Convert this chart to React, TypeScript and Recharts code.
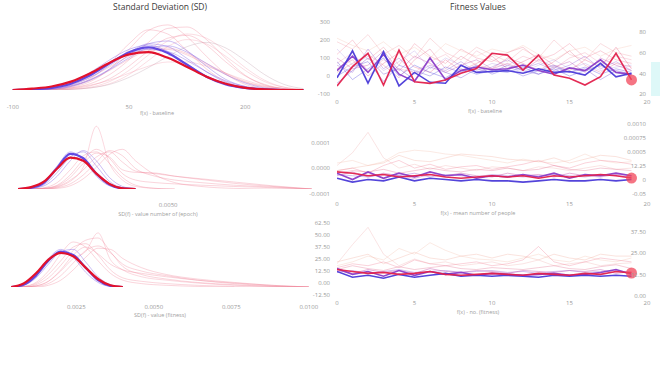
import { LineChart, Line, XAxis, YAxis, ReferenceDot } from 'recharts';

const font = '"Open Sans", "Noto Sans", sans-serif';

// ---------- left column: SD density curves ----------
const sdGrid = [-100, -75, -50, -25, 0, 25, 50, 75, 100, 125, 150, 175, 200, 225, 250, 275];
const sdTicks = [-100, 50, 200];
const sdRed = [0, 2, 5, 12, 24, 39, 51, 54, 46, 33, 19, 9, 3, 1, 0, 0];
const sdBlue = [0, 1, 3, 9, 21, 38, 54, 61, 53, 36, 19, 8, 3, 1, 0, 0];
const sdP1 = [0, 1, 4, 11, 25, 43, 58, 64, 55, 37, 20, 8, 2, 0, 0, 0];
const sdP2 = [0, 1, 2, 7, 18, 35, 53, 66, 62, 45, 26, 11, 4, 1, 0, 0];
const sdP3 = [0, 0, 2, 6, 15, 30, 50, 66, 70, 56, 34, 15, 5, 1, 0, 0];
const sdP4 = [0, 1, 3, 10, 22, 38, 52, 58, 55, 42, 26, 13, 5, 1, 0, 0];
const sdP5 = [0, 0, 1, 5, 14, 29, 46, 60, 63, 54, 38, 22, 10, 3, 1, 0];
const sdK1 = [0, 0, 1, 3, 9, 22, 43, 68, 88, 90, 72, 45, 21, 7, 2, 0];
const sdK2 = [0, 0, 1, 4, 12, 30, 58, 85, 93, 76, 48, 23, 8, 2, 0, 0];
const sdK3 = [0, 0, 0, 1, 4, 12, 28, 50, 70, 80, 74, 55, 32, 14, 4, 1];
const sdK4 = [0, 0, 0, 1, 3, 9, 22, 42, 62, 72, 66, 48, 28, 12, 4, 1];
const sdK5 = [0, 1, 3, 8, 18, 33, 48, 58, 60, 52, 38, 24, 12, 5, 2, 0];
const sdK6 = [0, 0, 0, 1, 3, 8, 18, 32, 48, 62, 68, 60, 42, 22, 8, 2];
const sdK7 = [0, 0, 1, 3, 7, 14, 24, 34, 40, 40, 34, 24, 14, 6, 2, 0];
const sdK8 = [0, 0, 0, 2, 6, 16, 34, 56, 74, 78, 64, 40, 20, 8, 2, 0];
const sdK9 = [0, 1, 2, 6, 14, 28, 44, 56, 58, 50, 36, 22, 11, 4, 1, 0];
const sdK10 = [0, 0, 1, 5, 16, 38, 66, 86, 80, 56, 30, 12, 4, 1, 0, 0];

const varGrid = [4, 8, 12, 16, 20, 24, 28, 32, 36, 40, 46, 52, 60, 70, 82, 94];
const varTicks = [50];
const varRed = [0, 3, 12, 32, 49, 44, 24, 8, 1, 0, null, null, null, null, null, null];
const varBlue = [0, 2, 10, 33, 55, 48, 24, 7, 1, 0, null, null, null, null, null, null];
const varP1 = [0, 1, 7, 26, 50, 58, 36, 12, 2, 0, null, null, null, null, null, null];
const varP2 = [0, 2, 12, 36, 58, 46, 20, 5, 1, 0, null, null, null, null, null, null];
const varP3 = [0, 1, 5, 20, 44, 60, 44, 18, 4, 0, null, null, null, null, null, null];
const varK1 = [0, 0, 2, 10, 30, 52, 58, 40, 18, 6, 1, 0, null, null, null, null];
const varK2 = [0, 0, 1, 4, 14, 34, 98, 40, 14, 4, 1, 0, null, null, null, null];
const varK3 = [0, 0, 1, 5, 18, 40, 56, 50, 30, 26, 25, 20, 15, 9, 4, 0];
const varK4 = [0, 0, 0, 3, 12, 30, 50, 58, 42, 28, 24, 20, 16, 11, 5, 0];
const varK5 = [0, 0, 0, 2, 8, 22, 42, 60, 52, 32, 20, 14, 10, 6, 3, 0];
const varK6 = [0, 0, 1, 6, 22, 46, 62, 48, 24, 14, 10, 8, 6, 4, 2, 0];
const varK7 = [0, 0, 0, 1, 5, 16, 34, 54, 62, 44, 22, 10, 4, 1, 0, 0];

const noiseGrid = [4, 8, 12, 16, 20, 24, 28, 32, 36, 40, 46, 54, 64, 76, 88, 100];
const noiseTicks = [25, 50, 75, 100];
const noiseRed = [0, 6, 24, 48, 60, 54, 34, 14, 3, 0, null, null, null, null, null, null];
const noiseBlue = [0, 4, 20, 46, 62, 56, 34, 12, 2, 0, null, null, null, null, null, null];
const noiseP1 = [0, 3, 16, 40, 62, 66, 44, 18, 4, 0, null, null, null, null, null, null];
const noiseP2 = [0, 5, 22, 50, 66, 52, 26, 8, 1, 0, null, null, null, null, null, null];
const noiseK1 = [0, 1, 8, 28, 58, 79, 70, 46, 24, 12, 6, 3, 1, 0, null, null];
const noiseK2 = [0, 0, 4, 16, 38, 64, 82, 86, 62, 36, 22, 14, 8, 4, 1, 0];
const noiseK3 = [0, 0, 2, 10, 28, 50, 62, 95, 48, 30, 18, 12, 7, 3, 1, 0];
const noiseK4 = [0, 0, 1, 6, 20, 42, 64, 72, 60, 40, 28, 20, 12, 6, 2, 0];
const noiseK5 = [0, 0, 2, 10, 30, 56, 70, 58, 40, 30, 24, 18, 12, 7, 3, 0];
const noiseK6 = [0, 0, 0, 3, 12, 30, 52, 68, 66, 50, 34, 22, 14, 8, 3, 0];
const noiseK7 = [0, 1, 6, 22, 46, 70, 76, 56, 30, 16, 10, 6, 3, 1, 0, 0];

// ---------- right column: fitness per iteration ----------
const iterations = [0, 1, 2, 3, 4, 5, 6, 7, 8, 9, 10, 11, 12, 13, 14, 15, 16, 17, 18, 19];
const iterTicks = [0, 5, 10, 15, 20];

const fitRed = [-56, 52, 126, -50, 144, -32, -41, -22, 15, 42, 126, 116, 33, 116, 5, -13, -50, -4, 126, -22];
const fitBlue = [-10, 140, -40, 135, -55, 20, -35, -40, 60, 20, 25, 30, 15, 40, 20, 25, 5, 70, -5, 15];
const fitPurple = [30, 110, 20, 120, 10, -30, 100, -20, 30, 50, 35, 40, 60, 30, 10, 45, 30, 90, 20, 10];
const fitT1 = [190, 150, 230, 120, 170, 100, 210, 130, 90, 160, 120, 80, 150, 100, 200, 120, 90, 180, 130, 110];
const fitT2 = [120, 200, 90, 160, 60, 180, 110, 70, 150, 100, 80, 130, 160, 90, 120, 180, 100, 140, 90, 70];
const fitT3 = [60, 20, 150, 40, 100, 10, 60, 30, 80, 20, 50, 90, 40, 70, 30, 60, 110, 40, 80, 30];
const fitT4 = [80, -20, 40, 100, 0, 60, 20, -10, 40, 10, 30, 20, 50, 10, 40, 0, 30, 60, 20, 0];
const fitT5 = [40, 90, 0, 70, 130, 50, 20, 90, 30, 70, 110, 40, 80, 120, 60, 30, 90, 50, 160, 40];
const fitT6 = [150, 60, 110, 30, 80, 140, 40, 100, 60, 30, 70, 50, 20, 60, 90, 40, 70, 30, 50, 60];
const fitT7 = [20, 70, 120, 60, -10, 90, 150, 40, 110, 60, 40, 100, 70, 30, 80, 140, 60, 20, 70, 50];
const fitT8 = [0, 50, 80, -30, 60, 30, 0, 50, 20, 60, 10, 40, 0, 30, 60, 20, 50, 10, 40, 20];
const fitT9 = [210, 170, 140, 190, 120, 160, 100, 180, 140, 110, 150, 130, 170, 120, 90, 140, 160, 110, 150, 170];
const fitT10 = [100, 40, 60, 140, 30, 110, 70, 20, 60, 90, 40, 70, 30, 90, 50, 80, 20, 100, 60, 30];
const fitT11 = [-40, 30, 100, 10, 40, -20, 50, 20, -10, 40, 20, 60, 30, 10, 50, 20, 40, -20, 30, 10];
const fitT12 = [70, 130, 30, 90, 40, 20, 80, 120, 50, 140, 90, 60, 110, 80, 40, 100, 130, 70, 110, 90];

const peopleRed = [-0.15, -0.2, -0.3, -0.25, -0.35, -0.3, -0.25, -0.35, -0.4, -0.35, -0.3, -0.35, -0.3, -0.4, -0.3, -0.35, -0.3, -0.25, -0.3, -0.39];
const peopleBlue = [-0.4, -0.55, -0.45, -0.5, -0.35, -0.5, -0.4, -0.45, -0.5, -0.45, -0.5, -0.5, -0.55, -0.5, -0.45, -0.5, -0.5, -0.45, -0.5, -0.45];
const peoplePurple = [-0.2, -0.45, -0.15, -0.4, -0.2, -0.35, -0.15, -0.3, -0.25, -0.4, -0.3, -0.35, -0.25, -0.35, -0.2, -0.4, -0.25, -0.3, -0.2, -0.3];
const peopleA = [0.1, 0.6, 1.4, 0.4, 0.0, 0.15, -0.05, 0.1, 0.0, -0.1, 0.05, 0.0, -0.1, 0.05, 0.0, -0.1, 0.0, 0.1, -0.05, 0.0];
const peopleB = [-0.1, 0.0, 0.1, 0.2, 0.5, 0.3, 0.25, 0.4, 0.55, 0.5, 0.45, 0.35, 0.3, 0.25, 0.4, 0.2, 0.35, 0.5, 0.45, 0.3];
const peopleC = [-0.1, 0.0, -0.2, 0.1, 0.3, 0.0, 0.15, -0.05, 0.05, 0.1, -0.05, 0.05, 0.15, 0.3, 0.1, 0.0, 0.2, 0.3, 0.25, 0.15];
const peopleD = [-0.2, -0.1, -0.15, -0.05, -0.2, -0.1, 0.0, -0.1, -0.15, -0.05, -0.1, 0.0, -0.1, -0.05, 0.1, -0.05, -0.1, 0.0, -0.05, -0.1];
const peopleE = [-0.25, -0.3, -0.35, -0.25, -0.3, -0.2, -0.35, -0.25, -0.3, -0.35, -0.25, -0.3, -0.35, -0.3, -0.25, -0.3, -0.35, -0.25, -0.3, -0.35];
const peopleF = [0.2, 0.3, 0.1, 0.25, 0.6, 0.7, 0.65, 0.55, 0.5, 0.4, 0.3, 0.2, 0.35, 0.25, 0.2, 0.3, 0.55, 0.3, 0.2, 0.25];
const peopleG = [-0.3, -0.15, -0.35, -0.2, -0.3, -0.4, -0.25, -0.3, -0.2, -0.3, -0.35, -0.2, -0.3, -0.25, -0.35, -0.2, -0.3, -0.35, -0.25, -0.3];

const noRed = [14, 12, 10, 11, 9, 10, 12, 9, 8, 9, 10, 9, 8, 10, 9, 8, 10, 9, 12, 10.4];
const noBlue = [12, 6, 8, 5, 9, 6, 8, 10, 7, 8, 7, 8, 7, 6, 8, 7, 8, 7, 8, 7];
const noPurple = [15, 9, 12, 7, 13, 8, 12, 9, 11, 8, 10, 9, 8, 9, 10, 8, 9, 11, 14, 9];
const noA = [20, 40, 58, 30, 18, 25, 20, 22, 18, 20, 22, 18, 20, 24, 18, 20, 22, 18, 20, 21];
const noB = [18, 22, 28, 24, 36, 30, 42, 34, 28, 25, 24, 22, 26, 30, 24, 22, 28, 24, 22, 26];
const noC = [16, 20, 18, 22, 16, 24, 20, 18, 20, 22, 18, 20, 24, 38, 22, 18, 22, 26, 24, 22];
const noD = [14, 18, 15, 13, 17, 14, 16, 18, 15, 14, 16, 15, 14, 16, 18, 15, 14, 17, 19, 15];
const noE = [11, 13, 10, 12, 14, 11, 12, 13, 11, 12, 13, 11, 12, 10, 12, 13, 11, 12, 13, 11];
const noF = [22, 26, 30, 20, 26, 32, 26, 24, 28, 30, 26, 30, 28, 24, 30, 26, 24, 30, 28, 28];
const noG = [13, 10, 14, 11, 13, 10, 15, 12, 11, 13, 12, 10, 13, 12, 11, 13, 12, 14, 10, 12];

const fitLeftTicks = [-100, 0, 100, 200, 300];
const fitRightTicks = [20, 40, 60, 80];
const peopleLeftTicks = [-1, 0, 1];
const peopleLeftLabels = ['-0.0001', '0.0000', '0.0001'];
const peopleRightTicks = [-1, 0, 1, 2, 3, 4];
const peopleRightLabels = ['-0.05', '0', '12.25', '0.0005', '0.00075', '0.0010'];
const noLeftTicks = [-12.5, 0, 12.5, 25, 37.5, 50, 62.5];
const noRightTicks = [0, 12.5, 25, 37.5];

type Spec = { key: string; values: (number | null)[]; stroke: string; width: number; opacity: number };

const thinPurple = (key: string, values: (number | null)[], opacity = 0.55): Spec => ({ key, values, stroke: '#8a6ae6', width: 0.8, opacity });
const thinPink = (key: string, values: (number | null)[], opacity = 0.45): Spec => ({ key, values, stroke: '#f07890', width: 0.7, opacity });
const boldBlue = (key: string, values: (number | null)[]): Spec => ({ key, values, stroke: '#5a40e0', width: 2.2, opacity: 0.95 });
const boldRed = (key: string, values: (number | null)[]): Spec => ({ key, values, stroke: '#e2122c', width: 2.2, opacity: 1 });

const sdSpecs: Spec[] = [
  thinPink('k1', sdK1), thinPink('k2', sdK2), thinPink('k3', sdK3, 0.35), thinPink('k4', sdK4, 0.35),
  thinPink('k5', sdK5), { key: 'k6', values: sdK6, stroke: '#c0a0b0', width: 0.7, opacity: 0.5 },
  thinPink('k7', sdK7, 0.35), thinPink('k8', sdK8), thinPink('k9', sdK9), thinPink('k10', sdK10),
  thinPurple('p1', sdP1), thinPurple('p2', sdP2), thinPurple('p3', sdP3), thinPurple('p4', sdP4), thinPurple('p5', sdP5),
  boldBlue('blue', sdBlue), boldRed('red', sdRed),
];
const varSpecs: Spec[] = [
  thinPink('k1', varK1), thinPink('k2', varK2, 0.4), thinPink('k3', varK3), thinPink('k4', varK4),
  thinPink('k5', varK5), thinPink('k6', varK6), thinPink('k7', varK7),
  thinPurple('p1', varP1), thinPurple('p2', varP2), thinPurple('p3', varP3),
  boldBlue('blue', varBlue), boldRed('red', varRed),
];
const noiseSpecs: Spec[] = [
  thinPink('k1', noiseK1), thinPink('k2', noiseK2), thinPink('k3', noiseK3, 0.4), thinPink('k4', noiseK4),
  thinPink('k5', noiseK5), thinPink('k6', noiseK6), thinPink('k7', noiseK7),
  thinPurple('p1', noiseP1), thinPurple('p2', noiseP2),
  boldBlue('blue', noiseBlue), boldRed('red', noiseRed),
];

const thin = (key: string, values: number[], stroke: string, opacity = 0.5): Spec => ({ key, values, stroke, width: 0.7, opacity });
const bold = (key: string, values: number[], stroke: string): Spec => ({ key, values, stroke, width: 1.6, opacity: 0.95 });

const fitSpecs: Spec[] = [
  thin('t9', fitT9, '#f4c0b0', 0.45), thin('t1', fitT1, '#f2a0a8'), thin('t2', fitT2, '#f08098'),
  thin('t12', fitT12, '#f090a8', 0.45), thin('t6', fitT6, '#b8a0e8'), thin('t3', fitT3, '#9a6ad8', 0.55),
  thin('t5', fitT5, '#e8608a'), thin('t7', fitT7, '#e27090'), thin('t10', fitT10, '#c04aa8'),
  thin('t4', fitT4, '#5a4ee0', 0.55), thin('t8', fitT8, '#6a58e0', 0.55), thin('t11', fitT11, '#7a50d0', 0.55),
  bold('purple', fitPurple, '#8a3cc8'), bold('blue', fitBlue, '#4a3ad8'), bold('red', fitRed, '#e2204c'),
];
const peopleSpecs: Spec[] = [
  thin('a', peopleA, '#f2b8b8', 0.55), thin('f', peopleF, '#f4c8b8', 0.55), thin('b', peopleB, '#f0b0a0', 0.5),
  thin('c', peopleC, '#f08098'), thin('d', peopleD, '#e27090'), thin('e', peopleE, '#9a6ad8', 0.6),
  thin('g', peopleG, '#c04aa8', 0.6),
  bold('purple', peoplePurple, '#8a3cc8'), bold('blue', peopleBlue, '#4a3ad8'), bold('red', peopleRed, '#e2204c'),
];
const noSpecs: Spec[] = [
  thin('a', noA, '#f2b8b8', 0.55), thin('b', noB, '#f4c8b8', 0.55), thin('f', noF, '#f0b0a0', 0.5),
  thin('c', noC, '#f08098'), thin('d', noD, '#e27090'), thin('e', noE, '#9a6ad8', 0.6),
  thin('g', noG, '#c04aa8', 0.6),
  bold('purple', noPurple, '#8a3cc8'), bold('blue', noBlue, '#4a3ad8'), bold('red', noRed, '#e2204c'),
];

function buildRows(xs: number[], specs: Spec[]) {
  return xs.map((x, i) => {
    const row: Record<string, number | null> = { x };
    specs.forEach((s) => {
      row[s.key] = s.values[i] ?? null;
    });
    return row;
  });
}

const tickStyle = { fontSize: 6, fill: '#9a9a9a', fontFamily: font };

function renderLines(specs: Spec[], curve: 'monotone' | 'linear', yAxisId?: string) {
  return specs.map((s) => (
    <Line
      key={s.key}
      yAxisId={yAxisId ?? 0}
      type={curve}
      dataKey={s.key}
      stroke={s.stroke}
      strokeWidth={s.width}
      strokeOpacity={s.opacity}
      dot={false}
      activeDot={false}
      isAnimationActive={false}
    />
  ));
}

function DensityPanel(props: {
  top: number; height: number; xh: number; tickMargin: number;
  grid: number[]; specs: Spec[]; domain: [number, number]; ticks: number[]; fmt: (v: number) => string;
}) {
  const { top, height, xh, tickMargin, grid, specs, domain, ticks, fmt } = props;
  return (
    <div style={{ position: 'absolute', left: 0, top }}>
      <LineChart width={320} height={height} data={buildRows(grid, specs)} margin={{ top: 10, right: 5, bottom: 0, left: 5 }}>
        <XAxis
          dataKey="x" type="number" domain={domain} allowDataOverflow ticks={ticks} interval={0}
          tickFormatter={fmt} tickLine={false} axisLine={false} tickSize={0} tickMargin={tickMargin}
          height={xh} tick={tickStyle}
        />
        <YAxis hide domain={[0, 100]} allowDataOverflow />
        {renderLines(specs, 'monotone')}
      </LineChart>
    </div>
  );
}

function FitnessPanel(props: {
  top: number; height: number; mTop: number; xh: number; tickMargin: number; specs: Spec[];
  leftDomain: [number, number]; leftTicks: number[]; leftFmt?: (v: number) => string;
  rightDomain: [number, number]; rightTicks: number[]; rightFmt?: (v: number) => string;
  dotY: number;
}) {
  const p = props;
  return (
    <div style={{ position: 'absolute', left: 300, top: p.top }}>
      <LineChart width={360} height={p.height} data={buildRows(iterations, p.specs)} margin={{ top: p.mTop, right: 13, bottom: 0, left: 0 }}>
        <XAxis
          dataKey="x" type="number" domain={[0, 20]} allowDataOverflow ticks={iterTicks} interval={0}
          tickLine={false} axisLine={false} tickSize={0} tickMargin={p.tickMargin} height={p.xh} tick={tickStyle}
        />
        <YAxis
          yAxisId="l" orientation="left" width={37} domain={p.leftDomain} allowDataOverflow ticks={p.leftTicks}
          interval={0} tickFormatter={p.leftFmt} tickLine={false} axisLine={false} tickSize={0} tickMargin={7} tick={tickStyle}
        />
        <YAxis
          yAxisId="r" orientation="right" mirror width={13} domain={p.rightDomain} allowDataOverflow ticks={p.rightTicks}
          interval={0} tickFormatter={p.rightFmt} tickLine={false} axisLine={false} tickSize={0} tickMargin={1} tick={tickStyle}
        />
        {renderLines(p.specs, 'linear', 'l')}
        <ReferenceDot
          yAxisId="l" x={iterations[iterations.length - 1]} y={p.dotY} r={5.5}
          fill="#f2465a" fillOpacity={0.75} stroke="none"
        />
      </LineChart>
    </div>
  );
}

const label = (text: string, cx: number, cy: number, size = 5.5, color = '#a0a0a0') => (
  <div
    style={{
      position: 'absolute', left: cx - 100, top: cy - size * 0.7, width: 200, textAlign: 'center',
      fontSize: size, lineHeight: 1.2, color, fontFamily: font, whiteSpace: 'nowrap',
    }}
  >
    {text}
  </div>
);

export default function App() {
  return (
    <div style={{ position: 'absolute', left: 0, top: 0, width: 660, height: 366, background: '#fff', overflow: 'hidden' }}>
      {label('Standard Deviation (SD)', 160, 8, 8.5, '#3a3a3a')}
      {label('Fitness Values', 478, 8, 8.5, '#3a3a3a')}

      <DensityPanel
        top={10} height={105} xh={25} tickMargin={15} grid={sdGrid} specs={sdSpecs}
        domain={[-110, 290]} ticks={sdTicks} fmt={(v) => String(v)}
      />
      <DensityPanel
        top={115} height={100} xh={26} tickMargin={14} grid={varGrid} specs={varSpecs}
        domain={[0, 95]} ticks={varTicks} fmt={(v) => (v / 10000).toFixed(4)}
      />
      <DensityPanel
        top={220} height={95} xh={28} tickMargin={18} grid={noiseGrid} specs={noiseSpecs}
        domain={[2, 102]} ticks={noiseTicks} fmt={(v) => (v / 10000).toFixed(4)}
      />

      <FitnessPanel
        top={12} height={100} mTop={10} xh={18} tickMargin={6} specs={fitSpecs}
        leftDomain={[-100, 300]} leftTicks={fitLeftTicks}
        rightDomain={[20, 90]} rightTicks={fitRightTicks}
        dotY={fitRed[fitRed.length - 1]}
      />
      <FitnessPanel
        top={110} height={106} mTop={7} xh={16} tickMargin={2} specs={peopleSpecs}
        leftDomain={[-1.25, 2]} leftTicks={peopleLeftTicks} leftFmt={(v) => peopleLeftLabels[peopleLeftTicks.indexOf(v)] ?? ''}
        rightDomain={[-1.43, 4.5]} rightTicks={peopleRightTicks} rightFmt={(v) => peopleRightLabels[peopleRightTicks.indexOf(v)] ?? ''}
        dotY={peopleRed[peopleRed.length - 1]}
      />
      <FitnessPanel
        top={206} height={109} mTop={10} xh={16} tickMargin={2} specs={noSpecs}
        leftDomain={[-16.7, 69.8]} leftTicks={noLeftTicks} leftFmt={(v) => v.toFixed(2)}
        rightDomain={[-1.74, 46.5]} rightTicks={noRightTicks} rightFmt={(v) => v.toFixed(2)}
        dotY={noRed[noRed.length - 1]}
      />

      {label('f(x) - baseline', 157, 114)}
      {label('SD(f) - value number of (epoch)', 158, 215)}
      {label('SD(f) - value (fitness)', 160, 316)}
      {label('f(x) - baseline', 485, 112)}
      {label('f(x) - mean number of people', 478, 214)}
      {label('f(x) - no. (fitness)', 478, 313)}

      <div style={{ position: 'absolute', left: 651, top: 62, width: 9, height: 34, background: '#def8f8' }} />
    </div>
  );
}
